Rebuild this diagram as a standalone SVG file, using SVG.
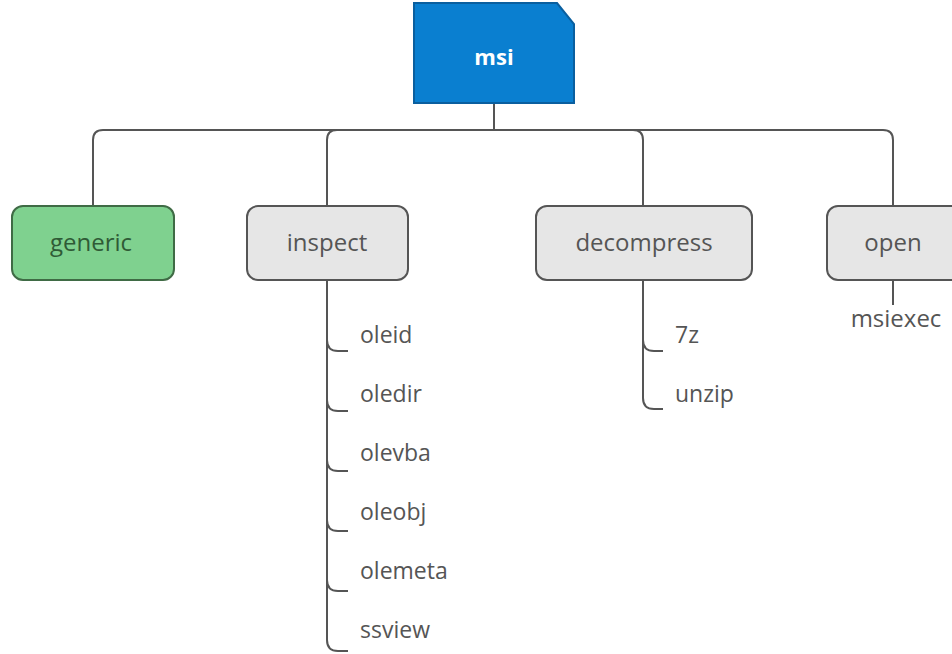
<svg xmlns="http://www.w3.org/2000/svg" width="952" height="654" viewBox="0 0 952 654">
<style>
.bg{fill:#ffffff}
.edge{fill:none;stroke:#555555;stroke-width:2}
.grey{fill:#e6e6e6;stroke:#555555;stroke-width:2}
.green{fill:#7fd18f;stroke:#3f6b45;stroke-width:2}
.lbl{font-family:"Open Sans","Noto Sans","DejaVu Sans",sans-serif;font-size:24px;fill:#555555;text-anchor:middle}
.leaf{font-family:"Open Sans","Noto Sans","DejaVu Sans",sans-serif;font-size:23px;fill:#555555}
</style>
<rect class="bg" width="952" height="654"/>
<g id="connectors">
<path class="edge" d="M494,103 V130 H103 Q93,130 93,140 V206"/>
<path class="edge" d="M494,130 H337 Q327,130 327,140 V206"/>
<path class="edge" d="M494,130 H633 Q643,130 643,140 V206"/>
<path class="edge" d="M494,130 H883 Q893,130 893,140 V206"/>
<path class="edge" d="M327,280 V640 Q327,651 338,651 H348"/>
<path class="edge" d="M327,340 Q327,351 338,351 H348"/>
<path class="edge" d="M327,400 Q327,411 338,411 H348"/>
<path class="edge" d="M327,460 Q327,471 338,471 H348"/>
<path class="edge" d="M327,520 Q327,531 338,531 H348"/>
<path class="edge" d="M327,580 Q327,591 338,591 H348"/>
<path class="edge" d="M643,280 V398 Q643,409 654,409 H663"/>
<path class="edge" d="M643,340 Q643,351 654,351 H663"/>
<path class="edge" d="M893,280 V305"/>
</g>
<g id="msi">
<path d="M414,3 H557 L574,24 V103 H414 Z" fill="#0a7fd0" stroke="#0a5f9f" stroke-width="2"/>
<text x="494" y="65" class="lbl" style="fill:#ffffff;font-weight:bold;font-size:22px">msi</text>
</g>
<g id="generic">
<rect class="green" x="12" y="206" width="162" height="74" rx="11"/>
<text x="91" y="251" class="lbl" style="fill:#2f5a36">generic</text>
</g>
<g id="inspect">
<rect class="grey" x="247" y="206" width="161" height="74" rx="11"/>
<text x="327" y="251" class="lbl">inspect</text>
</g>
<g id="decompress">
<rect class="grey" x="536" y="206" width="216" height="74" rx="11"/>
<text x="644" y="251" class="lbl">decompress</text>
</g>
<g id="open">
<rect class="grey" x="827" y="206" width="136" height="74" rx="11"/>
<text x="893" y="251" class="lbl">open</text>
</g>
<g id="oleid"><text x="360" y="343" class="leaf">oleid</text></g>
<g id="oledir"><text x="360" y="402" class="leaf">oledir</text></g>
<g id="olevba"><text x="360" y="461" class="leaf">olevba</text></g>
<g id="oleobj"><text x="360" y="520" class="leaf">oleobj</text></g>
<g id="olemeta"><text x="360" y="579" class="leaf">olemeta</text></g>
<g id="ssview"><text x="360" y="638" class="leaf">ssview</text></g>
<g id="n7z"><text x="675" y="343" class="leaf">7z</text></g>
<g id="unzip"><text x="675" y="402" class="leaf">unzip</text></g>
<g id="msiexec"><text x="896" y="327" class="lbl">msiexec</text></g>
</svg>
